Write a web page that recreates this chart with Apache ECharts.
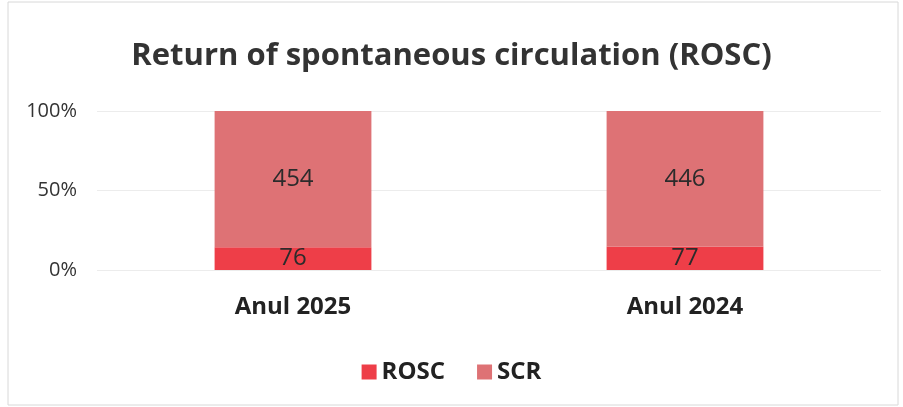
<!DOCTYPE html>
<html>
<head>
<meta charset="utf-8">
<script src="https://cdn.jsdelivr.net/npm/echarts@6/dist/echarts.min.js"></script>
<style>
  html, body { margin: 0; padding: 0; background: #fff; }
  #chart { width: 903px; height: 407px; }
</style>
</head>
<body>
<div id="chart"></div>
<script>
// date
var categories = ['Anul 2025', 'Anul 2024']
var roscValues = [76, 77]
var scrValues = [454, 446]
var yTicks = [0, 50, 100]

// procente pentru stivuire 100%
var totals = categories.map(function (c, i) { return roscValues[i] + scrValues[i] })
var roscPct = roscValues.map(function (v, i) { return v / totals[i] * 100 })
var scrPct = scrValues.map(function (v, i) { return v / totals[i] * 100 })

var font = 'Open Sans'
var chart = echarts.init(document.getElementById('chart'))

var labelStyle = {
  show: true,
  position: 'inside',
  color: '#2b2b2b',
  fontSize: 24,
  fontFamily: font
}

chart.setOption({
  animation: false,
  title: {
    text: 'Return of spontaneous circulation (ROSC)',
    left: 'center',
    top: 36,
    textStyle: { fontSize: 31, fontWeight: 'bold', color: '#333', fontFamily: font }
  },
  legend: {
    data: ['ROSC', 'SCR'],
    bottom: 18,
    left: 'center',
    icon: 'rect',
    itemWidth: 15,
    itemHeight: 15,
    itemGap: 32,
    textStyle: { fontSize: 24, fontWeight: 'bold', color: '#222', fontFamily: font }
  },
  grid: { left: 97, right: 22, top: 111, bottom: 137 },
  xAxis: {
    type: 'category',
    data: categories,
    axisLine: { show: false },
    axisTick: { show: false },
    axisLabel: { fontSize: 24, fontWeight: 'bold', color: '#222', margin: 25, fontFamily: font }
  },
  yAxis: {
    type: 'value',
    min: yTicks[0],
    max: yTicks[yTicks.length - 1],
    interval: 50,
    axisLabel: { formatter: '{value}%', fontSize: 20, color: '#333', margin: 20, fontFamily: font },
    splitLine: { lineStyle: { color: '#ececec' } }
  },
  series: [
    {
      name: 'ROSC',
      type: 'bar',
      stack: 'total',
      barWidth: '40%',
      data: roscPct,
      itemStyle: { color: '#ee3e48' },
      label: Object.assign({}, labelStyle, {
        formatter: function (p) { return roscValues[p.dataIndex] }
      })
    },
    {
      name: 'SCR',
      type: 'bar',
      stack: 'total',
      barWidth: '40%',
      data: scrPct,
      itemStyle: { color: '#de7275' },
      label: Object.assign({}, labelStyle, {
        formatter: function (p) { return scrValues[p.dataIndex] }
      })
    }
  ],
  graphic: [{
    type: 'rect',
    shape: { x: 8, y: 2, width: 890, height: 403 },
    style: { fill: 'none', stroke: '#d8d8d8', lineWidth: 1 },
    silent: true
  }]
})
</script>
</body>
</html>
